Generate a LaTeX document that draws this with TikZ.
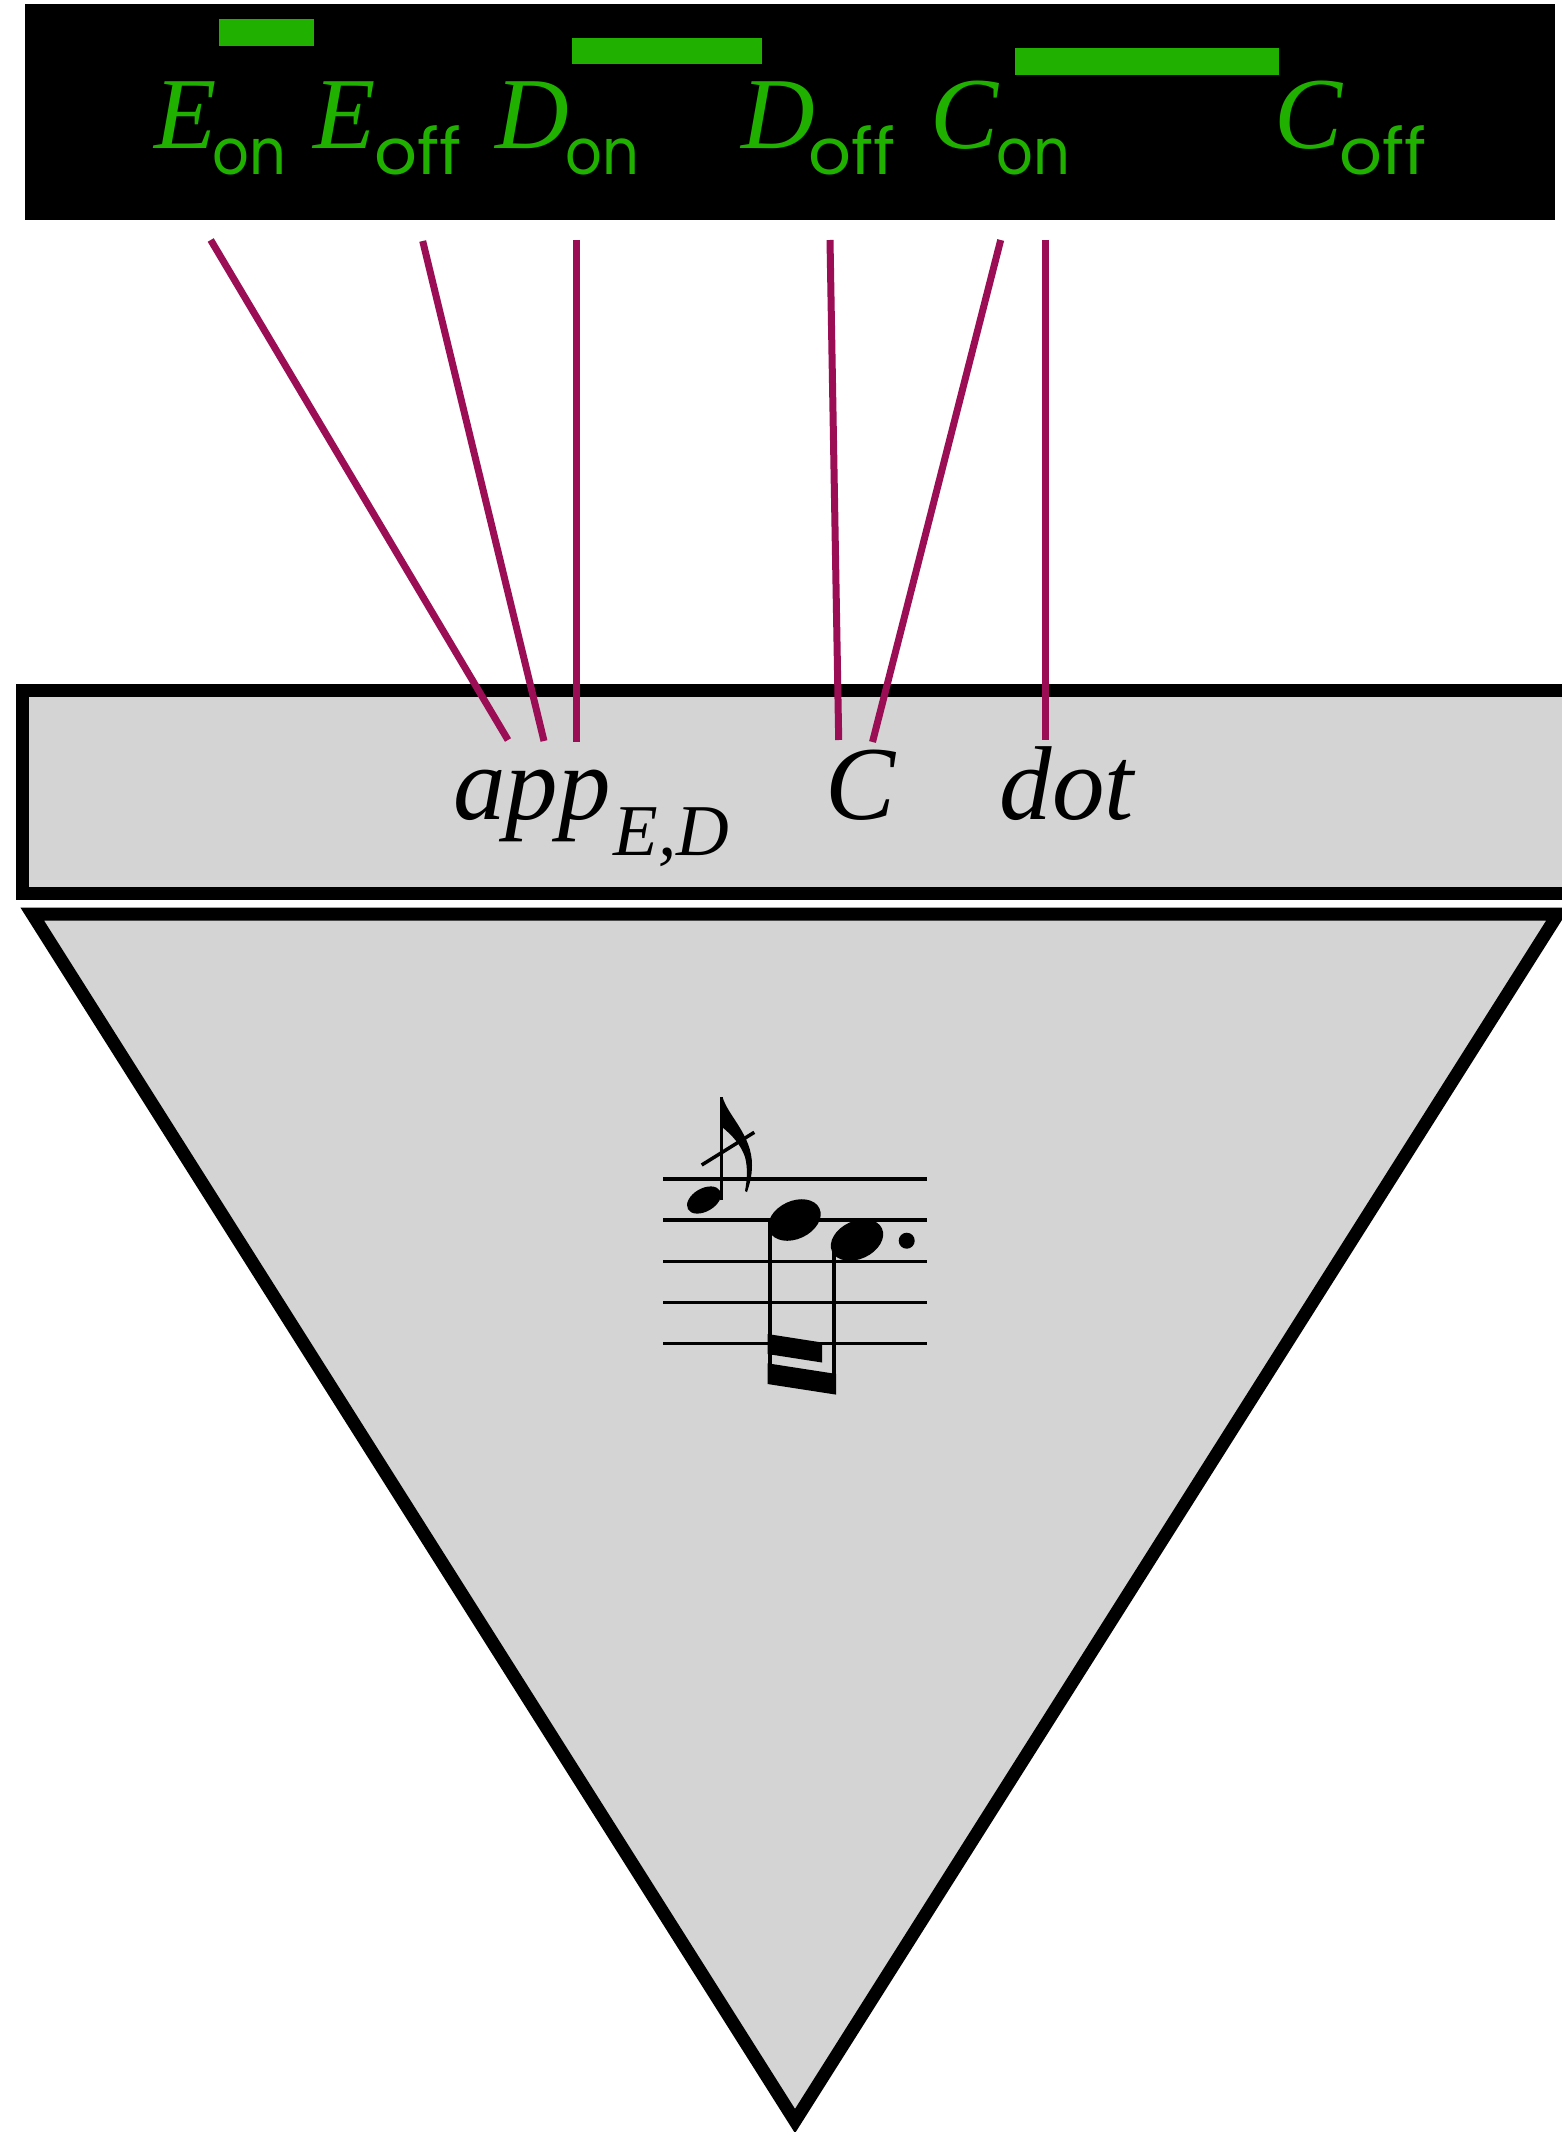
\documentclass[tikz,border=0pt]{standalone}
\usepackage{fontspec}
\setmainfont{Liberation Serif}
\newfontfamily\subsans{Poppins}
\definecolor{notegreen}{RGB}{31,176,0}
\definecolor{linkmag}{RGB}{155,14,86}
\definecolor{boxgray}{RGB}{212,212,212}
\begin{document}
\begin{tikzpicture}[x=1pt,y=-1pt,
  glyph/.style={anchor=base west, inner sep=0pt, text=notegreen, font=\fontsize{102}{102}\selectfont\itshape},
  sublab/.style={anchor=base west, inner sep=0pt, text=notegreen, font=\fontsize{64}{64}\selectfont\subsans},
  subon/.style={sublab, xscale=0.9},
  suboff/.style={sublab, xscale=1.05},
  greenbar/.style={fill=notegreen},
  link/.style={draw=linkmag, line width=7pt},
  midtext/.style={anchor=base west, inner sep=0pt, font=\fontsize{105}{105}\selectfont\itshape},
  panel/.style={draw=black, line width=13pt, fill=boxgray},
  staffline/.style={line width=3.3pt},
]
\useasboundingbox (0,0) rectangle (1562,2132);
\clip (0,0) rectangle (1562,2132);
\fill[white] (0,0) rectangle (1562,2132);

% top black panel
\fill[black] (24.5,4.5) rectangle (1555,220.5);
\fill[greenbar] (219.4,19.3) rectangle (314.3,46);
\fill[greenbar] (572.4,37.7) rectangle (762.2,64);
\fill[greenbar] (1014.7,48.3) rectangle (1278.7,75);

\node[glyph] (eonL) at (154,149) {E};
\node[subon] (eonS) at (212,175) {on};
\node[glyph] (eoffL) at (313.5,149) {E};
\node[suboff] (eoffS) at (374,175) {off};
\node[glyph] (donL) at (495,149) {D};
\node[subon] (donS) at (565,175) {on};
\node[glyph] (doffL) at (741,149) {D};
\node[suboff] (doffS) at (808.5,175) {off};
\node[glyph] (conL) at (930,149) {C};
\node[subon] (conS) at (996,175) {on};
\node[glyph] (coffL) at (1274,149) {C};
\node[suboff] (coffS) at (1339.5,175) {off};

% middle panel
\draw[panel] (22.8,690.5) rectangle (1580,893.5);
\node[midtext] (appL) at (453,819) {app\kern3pt\raisebox{-36pt}{\fontsize{73}{73}\selectfont E,D}};
\node[midtext] (cL) at (825,819) {C};
\node[midtext] (dotL) at (999.5,819) {dot};

% connectors
\coordinate (t1) at (210.7,240);  \coordinate (b1) at (508,740);
\coordinate (t2) at (422.7,241);  \coordinate (b2) at (544,741);
\coordinate (t3) at (576,240);    \coordinate (b3) at (576,742);
\coordinate (t4) at (830,240);    \coordinate (b4) at (838.7,740);
\coordinate (t5) at (1000.7,240); \coordinate (b5) at (872.5,742);
\coordinate (t6) at (1045,240);   \coordinate (b6) at (1045,740);
\foreach \i in {1,...,6} {\draw[link] (t\i) -- (b\i);}

% triangle
\draw[panel, miter limit=10] (32.2,914) -- (1558,914) -- (795,2121) -- cycle;

% staff
\foreach \k in {0,...,4} {\draw[staffline] (663,1179+41.1*\k) -- (927,1179+41.1*\k);}

% grace note
\fill[shift={(704,1200)}, rotate=30] (0,0) ellipse [x radius=18.5pt, y radius=11.5pt];
\draw[line width=3pt] (721.5,1200) -- (721.5,1097);
\fill (720,1098) -- (722.5,1097) .. controls (728,1116) and (752,1135) .. (752,1165)
  .. controls (752,1177) and (749,1186) .. (747,1192) -- (745,1191)
  .. controls (747,1180) and (748,1168) .. (745,1157)
  .. controls (741,1145) and (732,1135) .. (722,1127) -- (720,1127) -- cycle;
\draw[line width=3.5pt] (701.7,1165) -- (754.3,1132.3);

% main notes
\fill[shift={(794.5,1220)}, rotate=25] (0,0) ellipse [x radius=27.5pt, y radius=19pt];
\fill[shift={(857,1240)}, rotate=25] (0,0) ellipse [x radius=27.5pt, y radius=19pt];
\draw[line width=4pt] (769.5,1222) -- (769.5,1384);
\draw[line width=3.5pt] (834,1242) -- (834,1394);
\fill (767.5,1363.3) -- (836,1373.9) -- (836,1394.6) -- (767.5,1384) -- cycle;
\fill (767.5,1334) -- (822,1342.5) -- (822,1362.5) -- (767.5,1354) -- cycle;
\fill (906.7,1240.7) circle [radius=8pt];
\end{tikzpicture}
\end{document}
